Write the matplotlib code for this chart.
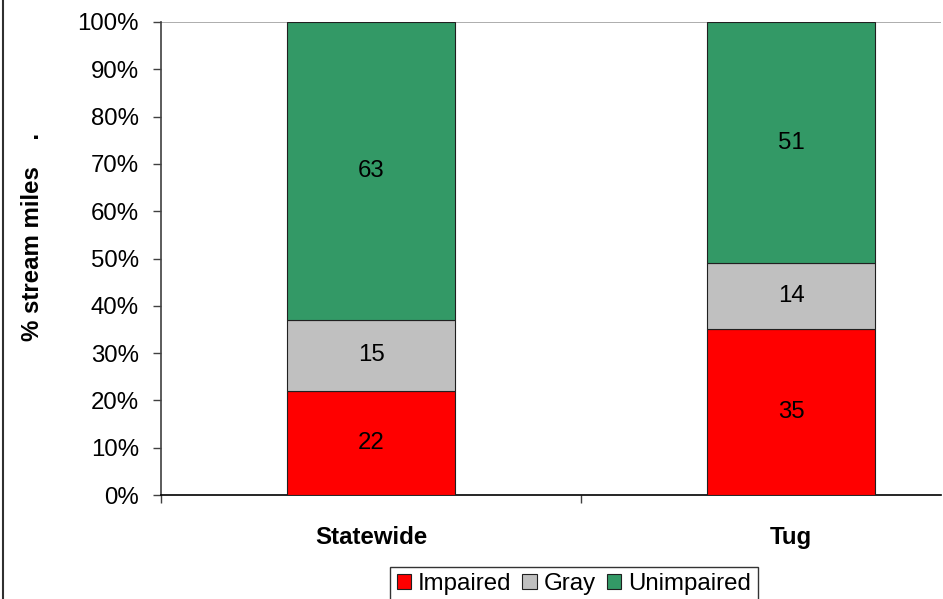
import matplotlib
matplotlib.use("Agg")
import matplotlib.pyplot as plt
from matplotlib.lines import Line2D
from matplotlib.ticker import FuncFormatter

plt.rcParams['font.family'] = ['Liberation Sans', 'DejaVu Sans']

categories = ["Statewide", "Tug"]
series_names = ["Impaired", "Gray", "Unimpaired"]
impaired = [22, 35]
gray = [15, 14]
unimpaired = [63, 51]
series_colors = ["#FF0000", "#C0C0C0", "#339966"]
y_ticks = list(range(0, 101, 10))

W, H = 943, 599
fig = plt.figure(figsize=(W / 100, H / 100), dpi=100)
ax = fig.add_axes([161 / W, (H - 495) / H, (941 - 161) / W, (495 - 22) / H])

xpos = list(range(len(categories)))
bottom = [0] * len(categories)
fs = 17.3
for name, vals, col in zip(series_names, [impaired, gray, unimpaired], series_colors):
    bars = ax.bar(xpos, vals, width=0.4, bottom=bottom, color=col,
                  edgecolor="#202020", linewidth=0.8, label=name, zorder=3)
    for x, b, v in zip(xpos, bottom, vals):
        ax.text(x, b + v / 2, f"{v}", ha="center", va="center", fontsize=fs, zorder=4)
    bottom = [b + v for b, v in zip(bottom, vals)]

ax.set_xlim(-0.5, -0.5 + (941 - 161) / 420)
ax.set_ylim(0, 100)
ax.axhline(100, color="#A0A0A0", linewidth=1.2, zorder=1)

ax.set_yticks(y_ticks)
ax.yaxis.set_major_formatter(FuncFormatter(lambda v, p: f"{int(v)}%"))
ax.tick_params(axis="y", direction="out", length=6, width=1, color="#404040",
               labelsize=fs, pad=10)

ax.set_xticks(xpos)
ax.set_xticklabels(categories, fontsize=fs, fontweight="bold")
ax.tick_params(axis="x", which="major", length=0, pad=22)
ax.set_xticks([-0.5, 0.5], minor=True)
ax.tick_params(axis="x", which="minor", direction="out", length=6, width=1, color="#404040")

for s in ["top", "right"]:
    ax.spines[s].set_visible(False)
ax.spines["left"].set_color("#404040")
ax.spines["left"].set_linewidth(1.2)
ax.spines["bottom"].set_color("#000000")
ax.spines["bottom"].set_linewidth(1.2)

ax.set_ylabel("% stream miles    .", fontsize=fs, fontweight="bold")
ax.yaxis.set_label_coords(-0.15, 0.546)

leg = fig.legend(loc="upper center", bbox_to_anchor=((388 + 760) / 2 / W, (H - 567) / H),
                 ncol=3, fontsize=fs, frameon=True, fancybox=False,
                 handlelength=0.6, handleheight=0.6, handletextpad=0.3,
                 columnspacing=0.45, borderpad=0.25, borderaxespad=0)
leg.get_frame().set_edgecolor("#000000")
leg.get_frame().set_linewidth(1)

fig.add_artist(Line2D([2.5 / W, 2.5 / W], [0, 1], color="#303030", linewidth=1.5,
                      transform=fig.transFigure))

fig.savefig("out.png", dpi=100, facecolor="white")
